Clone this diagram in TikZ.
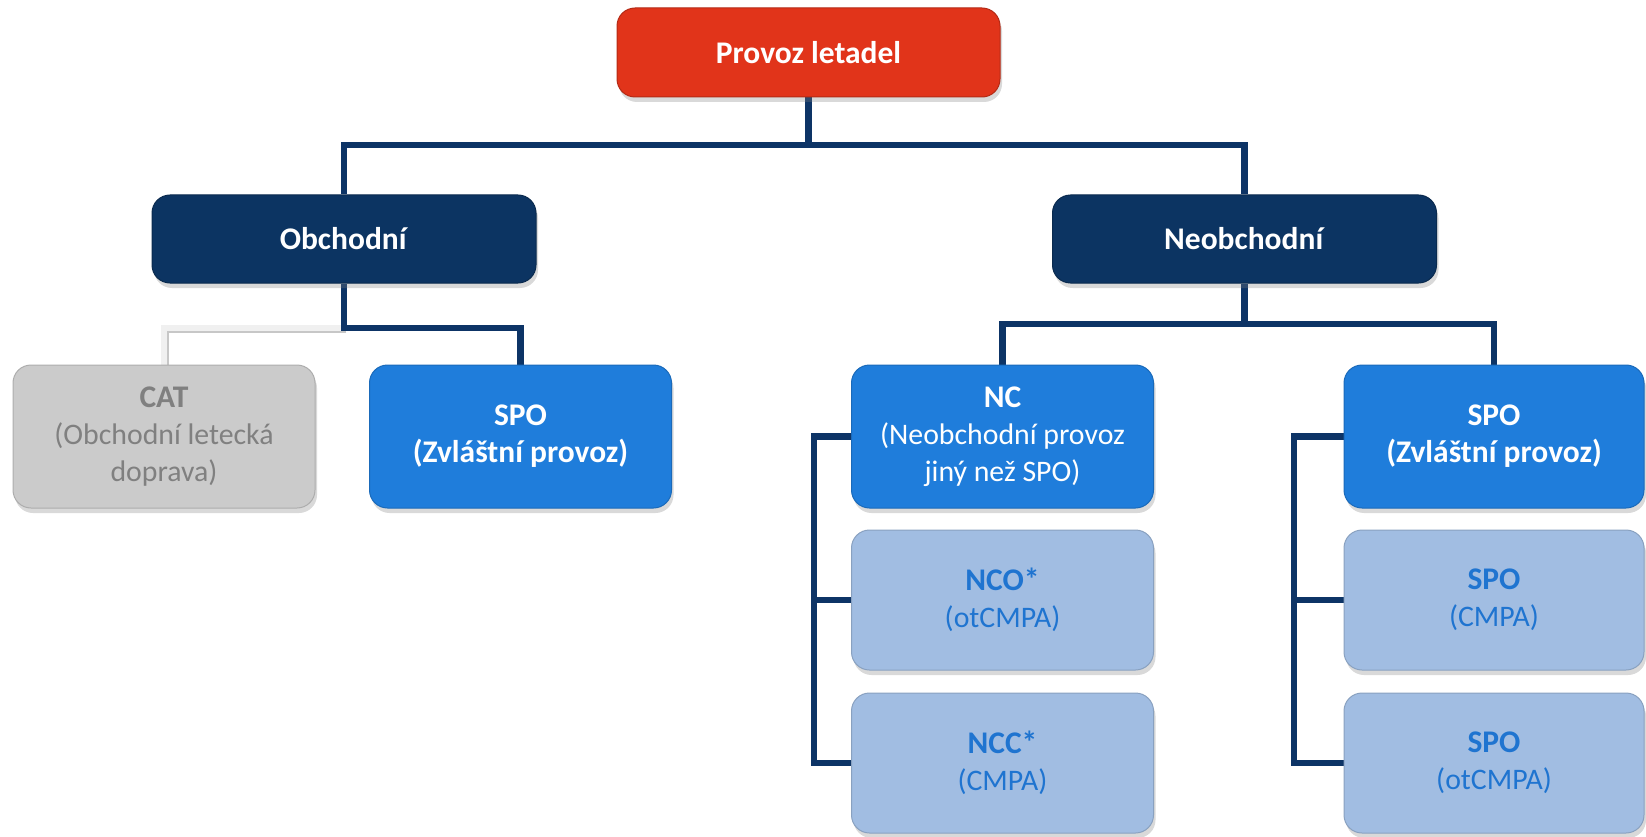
\documentclass[tikz,border=0pt]{standalone}
\usepackage{fontspec}
\setmainfont{Carlito}
\usetikzlibrary{shadows,backgrounds}
\definecolor{cRed}{HTML}{E1341A}
\definecolor{cNavy}{HTML}{0C3462}
\definecolor{cBlue}{HTML}{1F7DDB}
\definecolor{cLight}{HTML}{A1BDE2}
\definecolor{cGray}{HTML}{CBCBCB}
\definecolor{cGrayText}{HTML}{808080}
\definecolor{cLightText}{HTML}{1F74D0}
\definecolor{cLine}{HTML}{0D3466}
\newcommand{\rgtext}[1]{{\fontsize{29.8}{37}\selectfont #1}}
\tikzset{
  box/.style={rounded corners=18pt, align=center, inner sep=0pt,
    font=\fontsize{31.5}{37}\selectfont,
    drop shadow={opacity=0.3, shadow xshift=2pt, shadow yshift=-5pt}},
  redbox/.style={box, fill=cRed, draw=cRed!80!black, line width=1pt, text=white,
    minimum width=383pt, minimum height=89pt},
  navybox/.style={box, fill=cNavy, draw=cNavy!80!black, line width=1pt, text=white,
    minimum width=384pt, minimum height=88pt},
  bluebox/.style={box, fill=cBlue, draw=cBlue!85!black, line width=1pt, text=white,
    minimum width=302pt, minimum height=143pt},
  lightbox/.style={box, fill=cLight, draw=cLight!85!black, line width=1pt, text=cLightText,
    minimum width=302pt, minimum height=140pt},
  graybox/.style={box, fill=cGray, draw=cGray!85!black, line width=1pt, text=cGrayText,
    minimum width=302pt, minimum height=143pt},
  conn/.style={draw=cLine, line width=6.5pt},
  grayconn/.style={draw=gray!12, line width=6pt},
  grayshadow/.style={draw=black!22, line width=6pt, transform canvas={shift={(2pt,-2pt)}}}
}
\begin{document}
\begin{tikzpicture}[x=1pt,y=-1pt]
\useasboundingbox (0,0) rectangle (1646,837);
\node[redbox] (top) at (808.5,52.5) {\textbf{Provoz letadel}};
\node[navybox] (obch) at (344,239) {\textbf{Obchodní}};
\node[navybox] (neob) at (1244.5,239) {\textbf{Neobchodní}};
\node[graybox] (cat) at (164,436.5) {\textbf{CAT}\\\rgtext{(Obchodní letecká}\\\rgtext{doprava)}};
\node[bluebox] (spo1) at (520.5,436.5) {\textbf{SPO}\\\textbf{(Zvláštní provoz)}};
\node[bluebox] (nc) at (1002.5,436.5) {\textbf{NC}\\\rgtext{(Neobchodní provoz}\\\rgtext{jiný než SPO)}};
\node[bluebox, minimum width=300pt] (spo2) at (1494,436.5) {\textbf{SPO}\\\textbf{(Zvláštní provoz)}};
\node[lightbox] (nco) at (1002.5,600) {\textbf{NCO*}\\\rgtext{(otCMPA)}};
\node[lightbox] (ncc) at (1002.5,763) {\textbf{NCC*}\\\rgtext{(CMPA)}};
\node[lightbox, minimum width=300pt] (spoc) at (1494,600) {\textbf{SPO}\\\rgtext{(CMPA)}};
\node[lightbox, minimum width=300pt] (spoo) at (1494,763) {\textbf{SPO}\\\rgtext{(otCMPA)}};
\begin{pgfonlayer}{background}
\coordinate (j1) at (808.5,145);
\coordinate (j2) at (344,328);
\coordinate (j3) at (1244.5,324);
\draw[conn] (top.south) -- (j1);
\draw[conn] (j1) -| (obch.north);
\draw[conn] (j1) -| (neob.north);
\draw[grayshadow] (j2) -| (cat.north);
\draw[grayconn] (j2) -| (cat.north);
\draw[conn] (obch.south) -- (j2) -| (spo1.north);
\draw[conn] (neob.south) -- (j3) -| (nc.north);
\draw[conn] (j3) -| (spo2.north);
\coordinate (b1) at (814,436.5);
\coordinate (b2) at (1294,436.5);
\draw[conn] (nc.west) -- (b1) |- (ncc.west);
\draw[conn] (nco.west) -- (nco.west -| b1);
\draw[conn] (spo2.west) -- (b2) |- (spoo.west);
\draw[conn] (spoc.west) -- (spoc.west -| b2);
\end{pgfonlayer}
\end{tikzpicture}
\end{document}
